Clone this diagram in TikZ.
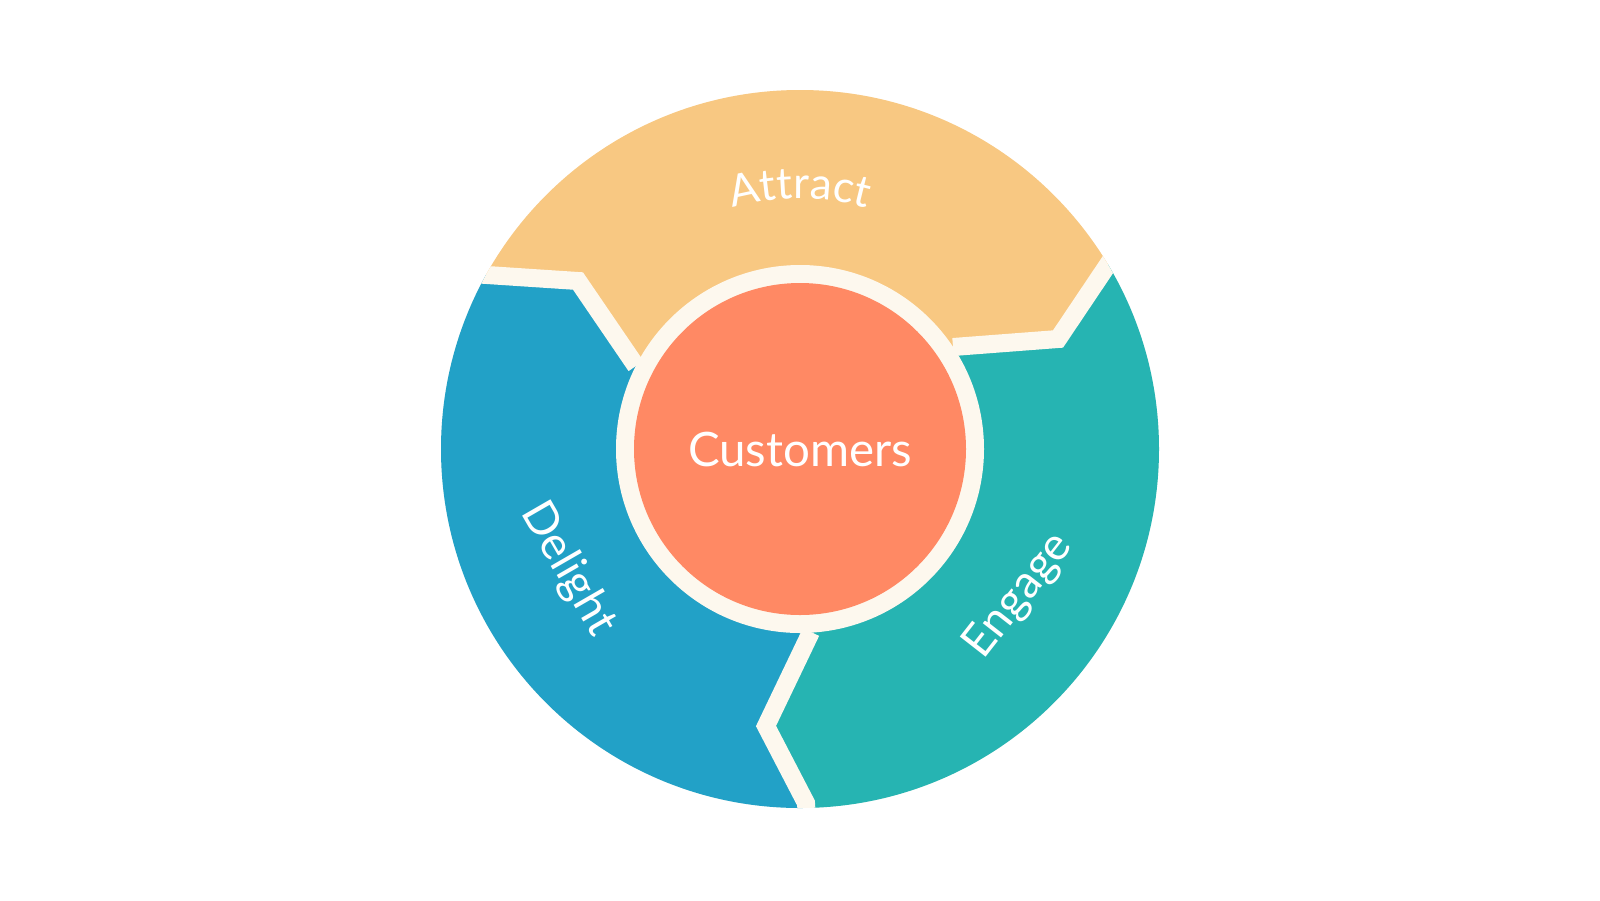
\documentclass[tikz,border=0pt]{standalone}
\usepackage{fontspec}
\setmainfont{Lato}
\usetikzlibrary{decorations.text}

\definecolor{attractyellow}{RGB}{248,200,130}
\definecolor{engageteal}{RGB}{38,180,178}
\definecolor{delightblue}{RGB}{34,161,199}
\definecolor{customerorange}{RGB}{255,137,100}
\definecolor{ringcream}{RGB}{253,248,238}

\tikzset{
  gapline/.style={draw=ringcream, line width=1.8mm, line join=miter},
  arclabel/.style={decorate, decoration={text along path, text align=center, text color=white}},
  stagelabel/.style={text=white, inner sep=0pt, font=\fontsize{13pt}{15pt}\selectfont},
}

\begin{document}
\begin{tikzpicture}
  \useasboundingbox (-8,-4.51) rectangle (8,4.49);
  % corner points of the three dividers
  \coordinate (c) at (0,0);
  \coordinate (ad1) at (-1.64,0.83);
  \coordinate (ad2) at (-2.22,1.68);
  \coordinate (ad3) at (-3.13,1.74);
  \coordinate (ad4) at (-5,1.86);
  \coordinate (ae1) at (1.53,1.02);
  \coordinate (ae2) at (2.58,1.10);
  \coordinate (ae3) at (3.07,1.83);
  \coordinate (ae4) at (3.9,3.07);
  \coordinate (de1) at (0.11,-1.83);
  \coordinate (de2) at (-0.34,-2.77);
  \coordinate (de3) at (0.06,-3.54);
  \coordinate (de4) at (0.15,-5);
  \fill[ringcream] (c) circle (3.59);
  \begin{scope}
    \clip (c) circle (3.59);
    \fill[attractyellow] (c) -- (ad1) -- (ad2) -- (ad3) -- (ad4) -- (-5,5) -- (5,5) -- (ae4) -- (ae3) -- (ae2) -- (ae1) -- cycle;
    \fill[engageteal] (c) -- (ae1) -- (ae2) -- (ae3) -- (ae4) -- (5,5) -- (5,-5) -- (de4) -- (de3) -- (de2) -- (de1) -- cycle;
    \fill[delightblue] (c) -- (de1) -- (de2) -- (de3) -- (de4) -- (-5,-5) -- (ad4) -- (ad3) -- (ad2) -- (ad1) -- cycle;
    \draw[gapline] (ad1) -- (ad2) -- (ad3) -- (ad4);
    \draw[gapline] (ae1) -- (ae2) -- (ae3) -- (ae4);
    \draw[gapline] (de1) -- (de2) -- (de3) -- (de4);
  \end{scope}
  \fill[ringcream] (c) circle (1.84);
  \node[circle, fill=customerorange, minimum size=3.32cm, inner sep=0pt, text=white,
        font=\fontsize{13.5pt}{16pt}\selectfont] (customers) at (c) {Customers};
  % stage labels
  \path[arclabel, decoration={text={|\fontsize{12.5pt}{14pt}\selectfont|Attract}}]
    (140:2.50) arc[start angle=140, end angle=40, radius=2.50];
  \node[stagelabel, rotate=-60] (delight) at (-2.32,-1.20) {Delight};
  \node[stagelabel, rotate=52] (engage) at (2.19,-1.47) {Engage};
\end{tikzpicture}
\end{document}
